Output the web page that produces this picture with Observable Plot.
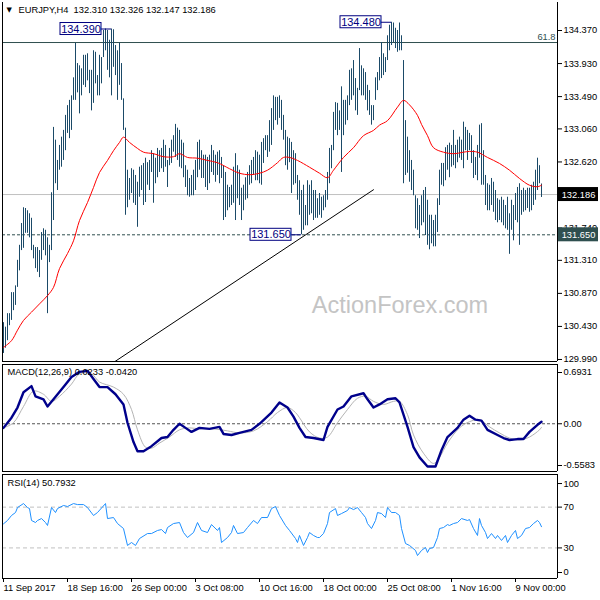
<!DOCTYPE html>
<html><head><meta charset="utf-8">
<script src="https://cdn.jsdelivr.net/npm/d3@7"></script>
<script src="https://cdn.jsdelivr.net/npm/@observablehq/plot@0.6"></script>
<style>
body{margin:0;background:#fff;}
#chart{position:relative;width:600px;height:600px;overflow:hidden;background:#fff;}
#chart svg{position:absolute;left:0;}
</style></head><body><div id="chart"></div>
<script>
// ---------- DATA ----------
const symbol = "EURJPY", timeframe = "H4";
const lastOpen = 132.310;
// H4 bar highs / lows (one per bar, 270 bars, 11 Sep – 10 Nov 2017)
const highs = [
130.48,130.42,130.60,130.60,130.88,130.88,130.97,131.31,131.51,131.80,132.01,132.00,131.97,131.93,131.87,131.51,131.48,131.48,131.44,131.68,131.73,131.71,131.61,131.51,
132.21,133.08,132.91,132.64,132.84,132.95,133.04,133.24,133.37,133.44,133.50,133.74,134.20,133.93,133.90,133.86,134.04,134.04,134.06,133.84,133.84,134.10,134.08,133.77,134.04,134.01,134.37,134.39,134.37,134.24,134.39,134.38,134.17,134.10,134.20,133.93,133.46,
133.07,132.51,132.40,132.53,132.51,132.44,132.35,132.55,132.57,132.60,
132.67,132.61,132.64,132.77,132.73,132.67,132.80,132.77,132.80,132.91,
132.84,132.64,132.80,132.91,132.97,133.12,133.07,133.04,132.91,132.87,
132.57,132.51,132.40,132.44,132.51,132.64,132.88,132.91,132.77,132.71,
132.71,132.68,132.71,132.84,132.77,132.71,132.75,132.77,132.68,132.57,
132.48,132.31,132.28,132.31,132.55,132.73,132.57,132.51,132.27,132.31,
132.41,132.48,132.57,132.64,132.68,132.77,132.75,132.71,132.88,132.93,
132.97,132.97,133.17,133.33,133.50,133.48,133.48,133.50,133.44,133.24,
133.04,132.95,132.93,132.88,132.77,132.73,132.44,132.37,132.24,
132.31,132.04,132.37,132.31,132.37,132.24,132.24,132.13,132.20,132.15,
132.17,132.24,132.48,132.80,132.84,133.28,133.41,133.40,133.30,133.62,
133.44,133.44,133.50,133.84,133.86,133.97,133.73,133.60,134.13,133.90,
133.86,133.81,133.64,133.57,133.37,133.37,133.74,133.81,134.01,134.21,
134.06,134.01,134.30,134.44,134.48,134.47,134.40,134.37,134.47,134.30,
133.97,133.17,132.95,132.77,132.64,132.51,132.17,132.13,132.04,132.17,
132.24,132.28,132.11,131.91,131.91,131.84,131.91,132.13,132.51,132.60,
132.60,132.81,132.84,132.87,132.84,133.04,132.84,132.91,132.95,132.91,
133.15,133.08,133.04,133.00,132.97,132.77,132.68,132.84,133.11,133.13,
132.77,132.44,132.33,132.31,132.40,132.35,132.24,132.13,132.11,132.15,
132.11,132.04,132.15,131.93,132.11,132.04,132.20,132.28,132.33,132.24,
132.27,132.24,132.27,132.27,132.31,132.35,132.51,132.67,132.57,132.326
];
const lows = [
130.07,130.14,130.24,130.44,130.51,130.64,130.71,130.95,131.17,131.44,131.47,131.67,131.67,131.61,131.44,131.33,131.20,131.15,131.08,131.31,131.44,131.37,130.60,131.28,
131.44,131.84,132.33,132.24,132.51,132.55,132.64,132.77,133.00,132.93,133.04,133.44,133.44,133.54,133.26,133.50,133.64,133.61,133.70,133.53,133.30,133.40,133.66,133.50,133.50,133.66,134.01,134.10,133.84,133.74,133.50,133.88,133.77,133.44,133.64,133.44,133.04,
131.91,132.01,132.11,132.20,132.07,132.04,131.75,132.15,132.24,132.04,
132.08,132.31,132.24,132.48,132.07,132.33,132.41,132.48,132.53,132.48,
132.55,132.28,132.57,132.60,132.75,132.68,132.64,132.55,132.53,132.41,
132.28,132.17,132.15,132.17,132.17,132.24,132.41,132.51,132.40,132.40,
132.28,132.24,132.33,132.48,132.44,132.35,132.44,132.33,132.40,131.84,
131.88,131.97,132.01,132.04,132.07,131.84,132.13,132.04,131.84,131.97,
132.11,132.13,132.31,132.33,132.44,132.37,132.37,132.33,132.31,132.60,
132.77,132.68,132.75,132.84,133.04,133.17,133.11,133.20,133.04,132.91,
132.57,132.51,132.61,132.20,132.31,132.33,132.11,131.91,131.65,
131.71,131.77,131.77,131.91,131.93,131.84,131.87,131.87,131.91,131.87,
131.97,132.01,132.11,132.33,132.53,132.77,133.04,132.97,133.04,132.48,
132.97,133.11,133.17,133.37,133.44,133.50,133.30,133.24,133.57,133.50,
133.50,133.44,133.30,133.24,133.11,133.17,133.44,133.57,133.70,133.73,
133.77,133.81,133.97,134.10,134.17,134.21,134.13,134.08,134.10,134.10,
132.33,132.44,132.47,132.35,132.24,132.17,131.73,131.71,131.60,131.77,
131.81,131.64,131.51,131.45,131.53,131.49,131.49,131.68,132.04,132.31,
132.29,132.37,132.51,132.41,132.55,132.57,132.53,132.61,132.67,132.64,
132.53,132.77,132.64,132.77,132.60,132.40,132.44,132.37,132.67,132.31,
132.31,132.04,131.97,131.97,132.04,131.95,131.84,131.81,131.84,131.81,
131.77,131.73,131.71,131.39,131.71,131.57,131.84,131.81,131.51,131.91,
131.95,131.97,132.00,131.95,131.97,132.04,132.11,132.24,132.33,132.147
];
const lastClose = 132.186;

// red moving average (sampled along the curve)
const maIdx = [0,4,7,10,14,18,22,25,28,32,35,38,42,45,48,52,55,58,60,63,67,70,75,80,85,88,92,97,102,107,113,118,123,128,132,137,140,143,147,153,158,162,165,170,175,180,185,188,192,197,200,203,207,209,212,215,220,225,230,233,237,242,248,253,258,263,267,269];
const maVal = [130.15,130.24,130.38,130.51,130.62,130.73,130.84,130.95,131.20,131.40,131.57,131.84,132.08,132.28,132.48,132.64,132.77,132.88,132.95,132.88,132.80,132.75,132.73,132.69,132.69,132.73,132.68,132.67,132.64,132.61,132.53,132.47,132.45,132.47,132.51,132.61,132.68,132.68,132.64,132.55,132.47,132.41,132.51,132.68,132.81,132.97,133.04,133.11,133.17,133.35,133.44,133.38,133.24,133.12,132.97,132.81,132.75,132.73,132.75,132.76,132.75,132.68,132.60,132.51,132.40,132.31,132.29,132.31];

// levels & annotations
const fibLevel = 134.21, fibLabel = "61.8";
const supportLevel = 131.650;
const pivotIdx = [54, 194, 149];
const pivotPrice = [134.390, 134.480, 131.650];
const trendIdx = [55, 185];
const trendPrice = [129.95, 132.25];
const mainTicks = [134.370,133.930,133.490,133.060,132.620,131.740,131.310,130.870,130.430,129.990];

// MACD(12,26,9)
const macdIdx = [0,4,7,10,14,16,20,22,25,30,34,38,42,45,48,52,56,60,62,65,67,70,74,79,82,85,88,91,94,98,103,108,110,114,118,124,128,134,138,142,145,148,151,155,160,162,167,170,174,180,182,185,188,192,196,198,202,205,208,212,216,219,222,227,230,233,236,239,242,247,250,253,257,260,263,267,269];
const macdVal = [-0.048,0.071,0.190,0.369,0.440,0.321,0.286,0.202,0.286,0.429,0.548,0.607,0.619,0.524,0.429,0.429,0.345,0.226,0.012,-0.214,-0.321,-0.321,-0.262,-0.167,-0.155,-0.071,0.0,-0.048,-0.095,-0.048,-0.060,-0.036,-0.119,-0.131,-0.107,-0.071,0.0,0.131,0.250,0.190,0.083,-0.048,-0.155,-0.167,-0.190,-0.036,0.167,0.202,0.321,0.357,0.286,0.190,0.226,0.286,0.298,0.250,-0.036,-0.274,-0.393,-0.500,-0.500,-0.310,-0.155,-0.048,0.048,0.095,0.048,0.036,-0.071,-0.131,-0.167,-0.190,-0.179,-0.179,-0.095,-0.012,0.0233];
const sigIdx = [0,5,10,15,20,24,28,34,38,44,48,55,60,64,67,71,74,78,83,88,93,98,105,112,118,125,132,137,142,146,148,153,158,162,167,172,177,181,185,190,195,198,202,205,210,215,218,222,228,233,238,243,248,253,258,263,268,269];
const sigVal = [-0.048,0.012,0.202,0.381,0.345,0.262,0.321,0.464,0.583,0.583,0.488,0.429,0.345,0.167,-0.071,-0.274,-0.286,-0.226,-0.155,-0.071,-0.048,-0.060,-0.060,-0.083,-0.107,-0.083,0.024,0.131,0.190,0.131,0.071,-0.095,-0.167,-0.155,0.012,0.167,0.298,0.321,0.262,0.226,0.262,0.262,0.107,-0.131,-0.345,-0.464,-0.393,-0.226,-0.048,0.024,0.048,-0.036,-0.107,-0.167,-0.190,-0.155,-0.071,-0.042];
const macdTicks = [0.6931, 0, -0.5583];
const macdTickLabels = ["0.6931", "0.00", "-0.5583"];

// RSI(14)
const rsiIdx = [0,2,4,6,7,10,12,13,14,16,17,19,21,22,24,26,27,30,32,35,37,40,42,45,47,51,52,55,57,60,62,64,66,68,72,74,77,79,81,82,85,88,90,92,95,97,99,102,104,107,108,109,112,114,115,117,120,122,125,127,129,132,134,136,138,141,143,146,147,148,150,152,153,155,157,158,160,162,163,166,167,169,172,173,175,177,179,181,182,184,186,187,189,191,192,194,196,198,199,201,203,206,207,209,211,212,213,215,217,218,220,222,223,225,227,229,232,233,235,237,238,239,241,242,244,246,247,249,251,252,254,256,257,259,261,263,265,267,268,269];
const rsiVal = [53.6,56.9,61.8,64.7,69.6,73.5,69.6,68.6,56.9,54.9,56.9,58.8,54.9,52.0,69.6,64.7,68.6,71.6,70.6,73.5,72.5,72.5,69.6,61.8,64.7,73.5,58.8,59.8,53.9,49.0,32.4,35.3,32.4,39.2,44.1,44.1,47.1,48.0,44.1,50.0,53.9,54.9,45.1,40.2,45.1,54.9,47.1,45.1,52.9,47.1,50.0,35.3,40.2,45.1,52.0,44.1,45.1,50.0,56.9,53.9,59.8,59.8,68.6,70.6,61.8,52.0,47.1,39.2,35.3,42.2,32.4,40.2,45.1,42.2,40.2,40.2,44.1,53.9,64.7,68.6,61.8,63.7,66.7,69.6,67.6,69.6,64.7,59.8,53.9,49.0,56.9,64.7,63.7,59.8,69.6,64.7,64.7,61.8,49.0,34.3,32.4,27.5,22.5,27.5,30.4,25.5,29.4,30.4,40.2,49.0,50.0,52.9,52.0,53.9,54.9,58.8,56.9,57.8,49.0,42.2,58.8,52.0,45.1,39.2,44.1,39.2,42.2,37.3,42.2,35.3,42.2,47.1,39.2,42.2,49.0,50.0,53.9,56.9,54.9,50.7932];
const rsiLevels = [70, 30];
const rsiTicks = [100, 70, 30, 0];

// time axis
const timeTickIdx = [0,32,64,96,128,160,192,224,256];
const timeTickLabels = ["11 Sep 2017","18 Sep 16:00","26 Sep 00:00","3 Oct 08:00","10 Oct 16:00","18 Oct 00:00","25 Oct 08:00","1 Nov 16:00","9 Nov 00:00"];

// ---------- STYLE ----------
const barColor = "#1b4a68", slate = "#2f4f4f", navy = "#000080";
const font = "'Liberation Sans', Arial, sans-serif";
const xDomain = [-0.5, 277];
const base = {
  width: 600, marginLeft: 2, marginRight: 43,
  x: {domain: xDomain, axis: null},
  style: {fontFamily: font, fontSize: "9.3px", color: "black", background: "transparent", overflow: "visible"}
};

const bars = highs.map((h, i) => ({i, high: h, low: lows[i]}));
const pivots = pivotIdx.map((i, k) => ({i, p: pivotPrice[k]}));
const markers = [{p: lastClose, fill: "black"}, {p: supportLevel, fill: slate}];
const yMain = [129.963, 134.743];

// ---------- MAIN PANEL ----------
const main = Plot.plot({
  ...base, height: 363, marginTop: 2, marginBottom: 2,
  y: {domain: yMain, axis: null},
  marks: [
    Plot.text(["ActionForex.com"], {frameAnchor: "middle", dx: 120, dy: 123, fontSize: 23.5, fill: "#c4c4c4", fontFamily: "'Liberation Sans', Arial, sans-serif"}),
    Plot.ruleY([lastClose], {stroke: "#c0c0c0"}),
    Plot.ruleY([fibLevel], {stroke: slate}),
    Plot.ruleY([supportLevel], {stroke: slate, strokeDasharray: "3,2"}),
    Plot.ruleX(bars, {x: "i", y1: "low", y2: "high", stroke: barColor}),
    Plot.line(maIdx.map((d, k) => [d, maVal[k]]), {stroke: "red", strokeWidth: 1, curve: "catmull-rom"}),
    Plot.line(trendIdx.map((d, k) => [d, trendPrice[k]]), {stroke: "black", strokeWidth: 1, clip: true}),
    Plot.ruleX([xDomain[0], xDomain[1]], {stroke: "black"}),
    Plot.ruleY([yMain[0]], {stroke: "black"}),
    Plot.axisY({anchor: "right", ticks: mainTicks, tickFormat: d => d.toFixed(3), tickSize: 4, tickPadding: 2, label: null, fontSize: 9.3}),
    // pivot labels
    Plot.ruleY(pivots, {y: "p", x1: d => d.i - 5, x2: "i", stroke: navy}),
    Plot.rect(pivots, {x1: "i", x2: "i", y1: "p", y2: "p", insetLeft: -51, insetRight: 10, insetTop: -6, insetBottom: -6, fill: "white", stroke: navy}),
    Plot.text(pivots, {x: "i", y: "p", text: d => d.p.toFixed(3), dx: -30.5, fill: navy, fontSize: 11}),
    // right price markers
    Plot.rect(markers, {x1: () => xDomain[1], x2: () => xDomain[1], y1: "p", y2: "p", insetLeft: 1, insetRight: -41, insetTop: -7, insetBottom: -7, fill: "fill"}),
    Plot.text(markers, {x: () => xDomain[1], y: "p", text: d => d.p.toFixed(3), dx: 21, fill: "white"}),
    // fib label
    Plot.text([fibLevel], {x: () => xDomain[1], y: d => d, text: () => fibLabel, textAnchor: "end", dx: -2, dy: -6, fill: slate}),
    // title
    Plot.text(["▼"], {frameAnchor: "top-left", dx: 4, dy: 5, fontSize: 7, textAnchor: "start", fontFamily: "'DejaVu Sans', sans-serif"}),
    Plot.text([`${symbol},${timeframe}  ${[lastOpen, highs[highs.length-1], lows[lows.length-1], lastClose].map(v => v.toFixed(3)).join(" ")}`],
      {frameAnchor: "top-left", dx: 16, dy: 4, textAnchor: "start"})
  ]
});

// ---------- MACD PANEL ----------
const macdDomain = [-0.5583, 0.6931];
const macdPlot = Plot.plot({
  ...base, height: 109, marginTop: 1, marginBottom: 1,
  y: {domain: macdDomain, axis: null},
  marks: [
    Plot.ruleY([0], {stroke: "#555", strokeDasharray: "3,2"}),
    Plot.line(sigIdx.map((d, k) => [d, sigVal[k]]), {stroke: "#b4b4b4", strokeWidth: 1, curve: "catmull-rom"}),
    Plot.line(macdIdx.map((d, k) => [d, macdVal[k]]), {stroke: "#00008b", strokeWidth: 2.4}),
    Plot.ruleX([xDomain[0], xDomain[1]], {stroke: "black"}),
    Plot.ruleY(macdDomain, {stroke: "black"}),
    Plot.axisY({anchor: "right", ticks: [macdTicks[0]], tickFormat: () => macdTickLabels[0], tickSize: 4, tickPadding: 2, label: null, dy: 8}),
    Plot.axisY({anchor: "right", ticks: [macdTicks[1]], tickFormat: () => macdTickLabels[1], tickSize: 4, tickPadding: 2, label: null}),
    Plot.axisY({anchor: "right", ticks: [macdTicks[2]], tickFormat: () => macdTickLabels[2], tickSize: 4, tickPadding: 2, label: null, dy: -6}),
    Plot.text([`MACD(12,26,9) ${macdVal[macdVal.length-1].toFixed(4)} ${sigVal[sigVal.length-1].toFixed(4)}`],
      {frameAnchor: "top-left", dx: 5, dy: 4, textAnchor: "start"})
  ]
});

// ---------- RSI PANEL ----------
const rsiDomain = [0, 102];
const rsiPlot = Plot.plot({
  ...base, height: 128, marginTop: 2, marginBottom: 22,
  y: {domain: rsiDomain, axis: null},
  marks: [
    Plot.ruleY(rsiLevels, {stroke: "#c0c0c0", strokeDasharray: "4,3"}),
    Plot.line(rsiIdx.map((d, k) => [d, rsiVal[k]]), {stroke: "#1e90ff", strokeWidth: 1}),
    Plot.ruleX([xDomain[0], xDomain[1]], {stroke: "black"}),
    Plot.ruleY(rsiDomain, {stroke: "black"}),
    Plot.axisY({anchor: "right", ticks: [rsiTicks[0]], tickFormat: d => String(d), tickSize: 4, tickPadding: 2, label: null, dy: 7}),
    Plot.axisY({anchor: "right", ticks: [rsiTicks[1], rsiTicks[2]], tickFormat: d => String(d), tickSize: 4, tickPadding: 2, label: null}),
    Plot.axisY({anchor: "right", ticks: [rsiTicks[3]], tickFormat: d => String(d), tickSize: 4, tickPadding: 2, label: null, dy: -6}),
    Plot.axisX({anchor: "bottom", ticks: timeTickIdx, tickFormat: d => timeTickLabels[timeTickIdx.indexOf(d)], tickSize: 4, tickPadding: 2, textAnchor: "start", label: null}),
    Plot.text([`RSI(14) ${rsiVal[rsiVal.length-1].toFixed(4)}`],
      {frameAnchor: "top-left", dx: 5, dy: 5, textAnchor: "start"})
  ]
});

const root = document.getElementById("chart");
[[main, 0], [macdPlot, 363], [rsiPlot, 472]].forEach(([svg, top]) => {
  svg.style.top = top + "px";
  root.appendChild(svg);
});
</script></body></html>
